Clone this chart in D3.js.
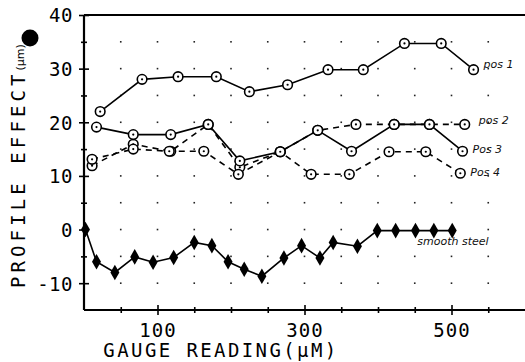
<!DOCTYPE html>
<html>
<head>
<meta charset="utf-8">
<script src="https://cdn.jsdelivr.net/npm/d3@7"></script>
<style>
  html, body { margin: 0; padding: 0; background: #fff; }
  svg { display: block; }
</style>
</head>
<body>
<svg id="chart" width="525" height="362"></svg>
<script>
// ---- data ----
const pos1X = [22, 79, 128, 180, 225, 277, 332, 380, 436, 486, 530];
const pos1Y = [22, 28, 28.5, 28.5, 25.7, 27, 29.8, 29.8, 34.7, 34.7, 29.8];

const pos2X = [11, 67, 118, 169, 212, 267, 318, 370, 422, 470, 518];
const pos2Y = [11.9, 15.9, 14.6, 19.6, 11.6, 14.5, 18.5, 19.6, 19.6, 19.6, 19.6];

const pos3X = [17, 67, 118, 169, 212, 267, 318, 364, 422, 470, 515];
const pos3Y = [19.1, 17.7, 17.7, 19.6, 12.8, 14.5, 18.5, 14.6, 19.6, 19.6, 14.6];

const pos4X = [11, 67, 116, 163, 210, 267, 309, 361, 415, 465, 512];
const pos4Y = [13.1, 15, 14.6, 14.6, 10.3, 14.5, 10.3, 10.3, 14.5, 14.5, 10.5];

const steelX = [2, 17, 42, 69, 94, 122, 150, 174, 196, 218, 242, 272, 296, 321, 339, 372, 399, 424, 451, 476, 501];
const steelY = [0, -6, -8, -5.1, -6.1, -5.2, -2.4, -3, -6, -7.4, -8.7, -5.3, -3, -5.3, -2.4, -3.1, -0.2, -0.2, -0.2, -0.2, -0.2];

const seriesNames = ["pos 1", "pos 2", "Pos 3", "Pos 4", "smooth steel"];

const xTickLabels = [100, 300, 500];
const xMinorTicks = [50, 100, 150, 200, 250, 300, 350, 400, 450, 500, 550];
const yTickLabels = [-10, 0, 10, 20, 30, 40];
const yMinorTicks = [-10, -5, 0, 5, 10, 15, 20, 25, 30, 35];
const gridX = [50, 100, 150, 200, 250, 300, 350, 400, 450, 500, 550];
const gridY = [-10, -5, 0, 5, 10, 15, 20, 25, 30, 35];

const xTitle = "GAUGE READING(\u03bcM)";
const yTitle = "PROFILE EFFECT";
const yUnit = "(\u03bcm)";

// ---- drawing ----
const svg = d3.select("#chart");
const x = d3.scaleLinear().domain([0, 600]).range([84, 525]);
const y = d3.scaleLinear().domain([-15, 40]).range([310, 15]);

const mono = "'DejaVu Sans Mono', monospace";

// grid dots
const dots = [];
gridX.forEach(gx => gridY.forEach(gy => dots.push([gx, gy])));
svg.append("g").selectAll("rect").data(dots).join("rect")
  .attr("x", d => x(d[0]) - 0.8).attr("y", d => y(d[1]) - 0.8)
  .attr("width", 1.6).attr("height", 1.6).attr("fill", "#222");

// frame lines: left axis, top, bottom
const frame = svg.append("g").attr("stroke", "#000").attr("stroke-width", 2.2);
frame.append("line").attr("x1", x(0)).attr("x2", x(0)).attr("y1", y(40)).attr("y2", y(-15));
frame.append("line").attr("x1", x(0)).attr("x2", x(600)).attr("y1", y(40)).attr("y2", y(40));
frame.append("line").attr("x1", x(0)).attr("x2", x(600)).attr("y1", y(-15)).attr("y2", y(-15));

// x axis ticks (crossing)
const xAxis = d3.axisBottom(x).tickValues(xMinorTicks).tickSize(0).tickFormat("");
const gx = svg.append("g").attr("transform", `translate(0,${y(-15)})`).call(xAxis);
gx.select(".domain").remove();
gx.selectAll(".tick line")
  .attr("stroke", "#000").attr("stroke-width", 1.6)
  .attr("y1", d => xTickLabels.includes(d) ? -5 : -3)
  .attr("y2", d => xTickLabels.includes(d) ? 5 : 3);
gx.selectAll(".tick text")
  .text(d => xTickLabels.includes(d) ? d : "")
  .attr("y", 27).attr("dy", 0)
  .attr("font-family", mono).attr("font-size", 19)
  .attr("letter-spacing", 1).attr("fill", "#000");

// y axis ticks (crossing)
const yAxis = d3.axisLeft(y).tickValues(yMinorTicks.concat([40])).tickSize(0).tickFormat("");
const gy = svg.append("g").attr("transform", `translate(${x(0)},0)`).call(yAxis);
gy.select(".domain").remove();
gy.selectAll(".tick line")
  .attr("stroke", "#000").attr("stroke-width", 1.6)
  .attr("x1", d => yTickLabels.includes(d) ? -5 : -3)
  .attr("x2", d => yTickLabels.includes(d) ? 5 : 3);
gy.selectAll(".tick text")
  .text(d => yTickLabels.includes(d) ? d : "")
  .attr("x", -11).attr("dy", "0.36em")
  .attr("font-family", mono).attr("font-size", 19)
  .attr("letter-spacing", 0.5).attr("fill", "#000");

// axis titles
svg.append("text")
  .attr("x", 221).attr("y", 357)
  .attr("text-anchor", "middle")
  .attr("font-family", mono).attr("font-size", 19)
  .attr("letter-spacing", 2.4)
  .attr("fill", "#000")
  .text(xTitle);

const yt = svg.append("text")
  .attr("transform", "translate(25,288) rotate(-90)")
  .attr("font-family", mono).attr("fill", "#000");
yt.append("tspan").attr("font-size", 19).attr("letter-spacing", 4.1).text(yTitle);
yt.append("tspan").attr("font-size", 11).attr("font-family", "'DejaVu Sans', sans-serif").attr("dy", -1).text(yUnit);

// black blob near the top of the y label
svg.append("circle").attr("cx", 30).attr("cy", 38).attr("r", 8.5).attr("fill", "#000");

// lines
const zip = (xs, ys) => xs.map((v, i) => [v, ys[i]]);
const line = d3.line().x(d => x(d[0])).y(d => y(d[1]));

const circleSeries = [
  { pts: zip(pos1X, pos1Y), dash: null },
  { pts: zip(pos2X, pos2Y), dash: "6,5" },
  { pts: zip(pos3X, pos3Y), dash: null },
  { pts: zip(pos4X, pos4Y), dash: "6,5" }
];
const steel = zip(steelX, steelY);

circleSeries.forEach(s => {
  svg.append("path").datum(s.pts)
    .attr("d", line).attr("fill", "none")
    .attr("stroke", "#000").attr("stroke-width", 1.6)
    .attr("stroke-dasharray", s.dash);
});
svg.append("path").datum(steel)
  .attr("d", line).attr("fill", "none")
  .attr("stroke", "#000").attr("stroke-width", 1.6);

// markers
circleSeries.forEach(s => {
  const g = svg.append("g");
  g.selectAll("circle.m").data(s.pts).join("circle")
    .attr("class", "m")
    .attr("cx", d => x(d[0])).attr("cy", d => y(d[1])).attr("r", 4.8)
    .attr("fill", "#fff").attr("stroke", "#000").attr("stroke-width", 1.6);
  g.selectAll("circle.c").data(s.pts).join("circle")
    .attr("class", "c")
    .attr("cx", d => x(d[0])).attr("cy", d => y(d[1])).attr("r", 1.1)
    .attr("fill", "#000");
});
svg.append("g").selectAll("path").data(steel).join("path")
  .attr("d", d3.symbol(d3.symbolDiamond, 70))
  .attr("transform", d => `translate(${x(d[0])},${y(d[1])})`)
  .attr("fill", "#000");

// series labels (handwritten in the original)
const labelPos = [
  [pos1X[pos1X.length - 1], pos1Y[pos1Y.length - 1], 10, -6],
  [pos2X[pos2X.length - 1], pos2Y[pos2Y.length - 1], 14, -4],
  [pos3X[pos3X.length - 1], pos3Y[pos3Y.length - 1], 10, -2],
  [pos4X[pos4X.length - 1], pos4Y[pos4Y.length - 1], 10, -1],
  [steelX[steelX.length - 1], steelY[steelY.length - 1], -35, 11]
];
svg.append("g").selectAll("text").data(seriesNames).join("text")
  .attr("x", (d, i) => x(labelPos[i][0]) + labelPos[i][2])
  .attr("y", (d, i) => y(labelPos[i][1]) + labelPos[i][3])
  .attr("dy", "0.35em")
  .attr("font-family", "'DejaVu Sans', sans-serif")
  .attr("font-size", 11)
  .attr("font-style", "italic")
  .attr("fill", "#111")
  .text(d => d);
</script>
</body>
</html>
